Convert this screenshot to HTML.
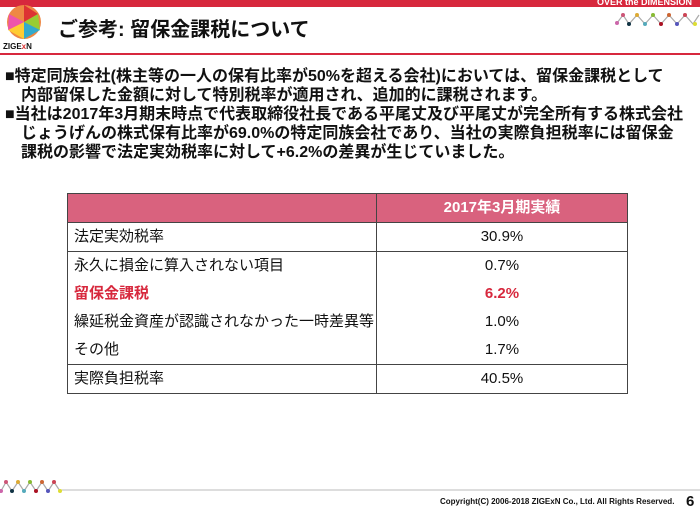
<!DOCTYPE html>
<html><head><meta charset="utf-8"><style>
body{margin:0;width:700px;height:521px;background:#fff;position:relative;overflow:hidden;font-family:"Liberation Sans","Noto Sans CJK JP",sans-serif;color:#111}
.a{position:absolute;white-space:nowrap}
.t{font-weight:bold;font-size:16px;line-height:19px;left:5px}
table{position:absolute;left:67px;top:193px;width:560px;border-collapse:collapse;font-size:15px;table-layout:fixed}
td{height:28px;padding:0 6px;line-height:18px;border-left:1px solid #444;border-right:1px solid #444;white-space:nowrap;overflow:hidden}
td.v{text-align:center}
</style></head><body>
<div class="a" style="left:0;top:0;width:700px;height:7px;background:#d7283d"></div>
<div class="a" style="right:8px;top:-3px;font-size:9px;font-weight:bold;color:#fff">OVER the DIMENSION</div>
<svg class="a" style="left:2px;top:2px" width="44" height="44" viewBox="0 0 44 44">
<circle cx="22" cy="20" r="17" fill="#e84"/><path d="M22 3 L36 12 L22 20Z" fill="#d33"/><path d="M36 12 L38 28 L22 20Z" fill="#9c3"/><path d="M38 28 L22 37 L22 20Z" fill="#3ac"/><path d="M22 37 L6 28 L22 20Z" fill="#fc3"/><path d="M6 28 L7 12 L22 20Z" fill="#e5a"/>
</svg>
<div class="a" style="left:3px;top:42px;font-size:8px;font-weight:bold">ZIGE<span style="color:#d33">x</span>N</div>
<div class="a" style="left:58px;top:13px;font-size:20px;font-weight:bold">ご参考: 留保金課税について</div>
<div class="a" style="left:0;top:53px;width:700px;height:2px;background:#d7283d"></div>
<svg class="a" style="left:615px;top:12px" width="85" height="15"><polyline points="2,11 8,3 14,12 22,3 30,12 38,3 46,12 54,3 62,12 70,3 78,12 84,3" fill="none" stroke="#aaa" stroke-width="1.2"/>
<g><circle cx="2" cy="11" r="2" fill="#c6a"/><circle cx="8" cy="3" r="2" fill="#c57"/><circle cx="14" cy="12" r="2" fill="#134"/><circle cx="22" cy="3" r="2" fill="#da3"/><circle cx="30" cy="12" r="2" fill="#5ab"/><circle cx="38" cy="3" r="2" fill="#8b3"/><circle cx="46" cy="12" r="2" fill="#a12"/><circle cx="54" cy="3" r="2" fill="#c63"/><circle cx="62" cy="12" r="2" fill="#55b"/><circle cx="70" cy="3" r="2" fill="#c45"/><circle cx="80" cy="12" r="2" fill="#dd3"/></g></svg>
<div class="a t" style="top:67px">■特定同族会社(株主等の一人の保有比率が50%を超える会社)においては、留保金課税として</div>
<div class="a t" style="top:86px;left:21px">内部留保した金額に対して特別税率が適用され、追加的に課税されます。</div>
<div class="a t" style="top:105px">■当社は2017年3月期末時点で代表取締役社長である平尾丈及び平尾丈が完全所有する株式会社</div>
<div class="a t" style="top:124px;left:21px">じょうげんの株式保有比率が69.0%の特定同族会社であり、当社の実際負担税率には留保金</div>
<div class="a t" style="top:143px;left:21px">課税の影響で法定実効税率に対して+6.2%の差異が生じていました。</div>
<table>
<colgroup><col style="width:309px"><col style="width:251px"></colgroup>
<tr style="background:#d9627e;color:#fff;font-weight:bold;border:1px solid #444"><td></td><td class="v">2017年3月期実績</td></tr>
<tr style="border-bottom:1px solid #444"><td>法定実効税率</td><td class="v">30.9%</td></tr>
<tr><td>永久に損金に算入されない項目</td><td class="v">0.7%</td></tr>
<tr style="color:#d7283d;font-weight:bold"><td>留保金課税</td><td class="v">6.2%</td></tr>
<tr><td>繰延税金資産が認識されなかった一時差異等</td><td class="v">1.0%</td></tr>
<tr style="border-bottom:1px solid #444"><td>その他</td><td class="v">1.7%</td></tr>
<tr style="border-bottom:1px solid #444"><td>実際負担税率</td><td class="v">40.5%</td></tr>
</table>
<svg class="a" style="left:0;top:478px" width="700" height="20"><line x1="60" y1="12" x2="700" y2="12" stroke="#bbb" stroke-width="1"/><polyline points="1,13 6,4 12,13 18,4 24,13 30,4 36,13 42,4 48,13 54,4 60,13" fill="none" stroke="#aaa" stroke-width="1.2"/>
<circle cx="1" cy="13" r="2" fill="#c6a"/><circle cx="6" cy="4" r="2" fill="#c57"/><circle cx="12" cy="13" r="2" fill="#134"/><circle cx="18" cy="4" r="2" fill="#da3"/><circle cx="24" cy="13" r="2" fill="#5ab"/><circle cx="30" cy="4" r="2" fill="#8b3"/><circle cx="36" cy="13" r="2" fill="#a12"/><circle cx="42" cy="4" r="2" fill="#c63"/><circle cx="48" cy="13" r="2" fill="#55b"/><circle cx="54" cy="4" r="2" fill="#c45"/><circle cx="60" cy="13" r="2" fill="#dd3"/></svg>
<div class="a" style="left:440px;top:497px;font-size:8px;font-weight:bold">Copyright(C) 2006-2018 ZIGExN Co., Ltd. All Rights Reserved.</div>
<div class="a" style="left:686px;top:493px;font-size:15px;font-weight:bold">6</div>
</body></html>
